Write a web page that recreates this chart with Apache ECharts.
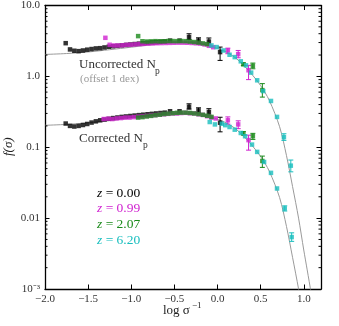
<!DOCTYPE html>
<html>
<head>
<meta charset="utf-8"/>
<script src="https://cdn.jsdelivr.net/npm/echarts@6/dist/echarts.min.js"></script>
<style>html,body{margin:0;padding:0;background:#fff;}</style>
</head>
<body>
<div id="chartmain" style="width:339px;height:326px;"></div>
<script type="text/javascript">
// corrected N_p  [log sigma^-1, f(sigma)]
var blackC = [[-1.76,0.216],[-1.71,0.200],[-1.66,0.196],[-1.61,0.200],[-1.56,0.206],[-1.51,0.213],[-1.46,0.223],[-1.41,0.232],[-1.36,0.240],[-1.31,0.246],[-1.26,0.252],[-1.21,0.258],[-1.16,0.263],[-1.11,0.268],[-1.06,0.272],[-1.01,0.276],[-0.96,0.280],[-0.91,0.284],[-0.86,0.288],[-0.81,0.292],[-0.76,0.296],[-0.71,0.300],[-0.66,0.304],[-0.61,0.308],[-0.55,0.322],[-0.44,0.322],[-0.33,0.372],[-0.22,0.330],[-0.10,0.314],[0.03,0.222]];
var blackCErr = [[-0.33,0.345,0.41],[-0.22,0.305,0.36],[-0.10,0.285,0.35],[0.03,0.165,0.265]];
var magentaC = [[-1.32,0.250],[-1.27,0.253],[-1.22,0.250],[-1.17,0.255],[-1.12,0.258],[-1.07,0.262],[-1.02,0.262],[-0.97,0.266],[-0.92,0.270],[-0.87,0.272],[-0.82,0.276],[-0.77,0.280],[-0.72,0.284],[-0.67,0.288],[-0.62,0.292],[-0.57,0.296],[-0.52,0.300],[-0.47,0.300],[-0.42,0.304],[-0.37,0.306],[-0.32,0.302],[-0.27,0.300],[-0.22,0.292],[-0.17,0.286],[-0.12,0.274],[-0.07,0.262],[-0.02,0.255],[0.12,0.240],[0.24,0.210],[0.36,0.126]];
var magentaCErr = [[0.12,0.212,0.268],[0.24,0.183,0.236],[0.36,0.091,0.148]];
var greenC = [[-0.92,0.262],[-0.87,0.266],[-0.82,0.272],[-0.77,0.277],[-0.72,0.283],[-0.67,0.288],[-0.62,0.294],[-0.57,0.298],[-0.52,0.302],[-0.47,0.306],[-0.42,0.308],[-0.37,0.308],[-0.32,0.305],[-0.27,0.300],[-0.22,0.294],[-0.17,0.287],[-0.12,0.278],[-0.07,0.268],[0.30,0.157],[0.41,0.143],[0.52,0.064]];
var greenCErr = [[0.30,0.149,0.166],[0.41,0.129,0.157],[0.52,0.052,0.075]];
var cyanC = [[-0.09,0.227],[-0.03,0.210],[0.05,0.215],[0.09,0.205],[0.14,0.193],[0.20,0.177],[0.27,0.159],[0.32,0.143],[0.40,0.109],[0.46,0.086],[0.54,0.062],[0.62,0.0435],[0.69,0.0262],[0.78,0.0137],[0.86,0.0054]];
var cyanCErr = [[0.78,0.0126,0.0149],[0.86,0.0047,0.0062]];

// uncorrected N_p (offset 1 dex)
var blackU = [[-1.76,2.94],[-1.71,2.40],[-1.66,2.30],[-1.61,2.27],[-1.56,2.32],[-1.51,2.38],[-1.46,2.43],[-1.41,2.48],[-1.36,2.50],[-1.31,2.56],[-1.26,2.62],[-1.21,2.66],[-1.16,2.70],[-1.11,2.74],[-1.06,2.78],[-1.01,2.82],[-0.96,2.86],[-0.91,2.90],[-0.86,2.94],[-0.81,2.98],[-0.76,3.02],[-0.71,3.05],[-0.66,3.08],[-0.61,3.11],[-0.55,3.20],[-0.44,3.20],[-0.33,3.58],[-0.22,3.20],[-0.10,3.10],[0.03,2.20]];
var blackUErr = [[-0.33,3.30,3.99],[-0.22,2.89,3.50],[-0.10,2.78,3.48],[0.03,1.68,2.59]];
var magentaU = [[-1.30,3.50],[-1.25,2.79],[-1.20,2.73],[-1.15,2.73],[-1.10,2.75],[-1.05,2.79],[-1.00,2.80],[-0.95,2.83],[-0.90,2.86],[-0.85,2.88],[-0.80,2.90],[-0.75,2.92],[-0.70,2.94],[-0.65,2.95],[-0.60,2.96],[-0.55,2.97],[-0.50,2.98],[-0.45,2.99],[-0.40,2.99],[-0.35,2.98],[-0.30,2.96],[-0.25,2.93],[-0.20,2.90],[-0.15,2.82],[-0.10,2.70],[-0.05,2.58],[0.12,2.32],[0.24,2.06],[0.36,1.22]];
var magentaUErr = [[0.12,2.09,2.50],[0.24,1.83,2.32],[0.36,0.90,1.43]];
var greenU = [[-0.92,3.70],[-0.87,3.13],[-0.82,3.10],[-0.77,3.12],[-0.72,3.14],[-0.67,3.12],[-0.62,3.13],[-0.57,3.15],[-0.52,3.15],[-0.47,3.14],[-0.42,3.15],[-0.37,3.14],[-0.32,3.10],[-0.27,3.05],[-0.22,3.00],[-0.17,2.92],[-0.12,2.85],[0.30,1.48],[0.41,1.41],[0.52,0.64]];
var greenUErr = [[0.30,1.42,1.55],[0.41,1.28,1.54],[0.52,0.51,0.79]];
var cyanU = [[-0.07,2.73],[-0.01,2.59],[0.07,2.32],[0.14,2.02],[0.20,1.87],[0.27,1.63],[0.33,1.43],[0.39,1.13],[0.46,0.88],[0.53,0.62],[0.62,0.45],[0.69,0.268],[0.77,0.139],[0.85,0.055]];
var cyanUErr = [[0.77,0.125,0.155],[0.85,0.045,0.066]];

// fit curves
var curveC = [[-2.0,0.204],[-1.75,0.210],[-1.5,0.221],[-1.25,0.238],[-1.0,0.258],[-0.75,0.280],[-0.5,0.298],[-0.3,0.300],[-0.1,0.272],[0.0,0.248],[0.1,0.221],[0.22,0.178],[0.37,0.117],[0.5,0.074],[0.6,0.046],[0.72,0.0195],[0.8,0.0076],[0.87,0.0028],[0.94,0.001],[0.98,0.0005]];
var curveU = [[-2.0,2.04],[-1.75,2.10],[-1.5,2.21],[-1.25,2.38],[-1.0,2.58],[-0.75,2.80],[-0.5,2.98],[-0.3,3.00],[-0.1,2.72],[0.0,2.48],[0.1,2.21],[0.22,1.78],[0.37,1.17],[0.5,0.74],[0.6,0.46],[0.72,0.195],[0.8,0.076],[0.87,0.028],[0.94,0.010],[1.0,0.00355],[1.04,0.00186],[1.085,0.00089],[1.1,0.0007]];

var minorTicksY = [0.002,0.003,0.004,0.005,0.006,0.007,0.008,0.009,0.02,0.03,0.04,0.05,0.06,0.07,0.08,0.09,0.2,0.3,0.4,0.5,0.6,0.7,0.8,0.9,2,3,4,5,6,7,8,9];
var zLabels = ['0.00', '0.99', '2.07', '6.20'];
var colors = ['#000000', '#d022d0', '#1a8a1a', '#18bebe'];

var serif = 'Liberation Serif';

function errItem(params, api) {
  var x = api.value(0);
  var p1 = api.coord([x, api.value(2)]);
  var p2 = api.coord([x, api.value(1)]);
  var w = 2.5;
  var st = { stroke: api.visual('color'), lineWidth: 1 };
  return { type: 'group', children: [
    { type: 'line', shape: { x1: p1[0], y1: p1[1], x2: p2[0], y2: p2[1] }, style: st },
    { type: 'line', shape: { x1: p1[0] - w, y1: p1[1], x2: p1[0] + w, y2: p1[1] }, style: st },
    { type: 'line', shape: { x1: p2[0] - w, y1: p2[1], x2: p2[0] + w, y2: p2[1] }, style: st }
  ]};
}

function minorItem(params, api) {
  var p = api.coord([0, api.value(1)]);
  var cs = params.coordSys;
  var st = { stroke: '#000', lineWidth: 1 };
  return { type: 'group', children: [
    { type: 'line', shape: { x1: cs.x, y1: p[1], x2: cs.x + 2.5, y2: p[1] }, style: st },
    { type: 'line', shape: { x1: cs.x + cs.width - 2.5, y1: p[1], x2: cs.x + cs.width, y2: p[1] }, style: st }
  ]};
}

function yFmt(v) {
  var e = Math.round(Math.log10(v));
  if (e === 1) return '10.0';
  if (e === 0) return '1.0';
  if (e === -1) return '0.1';
  if (e === -2) return '0.01';
  if (e === -3) return '10⁻³';
  return '';
}

function xFmt(v) {
  if (v > 1.05) return '';
  return (v < 0 ? '−' : '') + Math.abs(v).toFixed(1);
}

var series = [];
function addLine(d) {
  series.push({ type: 'line', data: d, smooth: 0.3, symbol: 'none', silent: true,
    lineStyle: { color: '#9a9a9a', width: 1 }, z: 1 });
}
addLine(curveC);
addLine(curveU);

var groups = [[blackC, blackCErr, blackU, blackUErr], [magentaC, magentaCErr, magentaU, magentaUErr],
  [greenC, greenCErr, greenU, greenUErr], [cyanC, cyanCErr, cyanU, cyanUErr]];
groups.forEach(function (g, i) {
  [0, 2].forEach(function (k) {
    series.push({ type: 'custom', renderItem: errItem, data: g[k + 1], itemStyle: { color: colors[i] },
      encode: { x: 0, y: [1, 2] }, z: 2 + i });
    series.push({ type: 'scatter', data: g[k], symbol: 'rect', symbolSize: 4.5,
      itemStyle: { color: colors[i] }, z: 2 + i });
  });
});
series.push({ type: 'custom', renderItem: minorItem, data: minorTicksY.map(function (v) { return [0, v]; }),
  encode: { x: 0, y: 1 }, z: 10, silent: true });

var axisLine = { onZero: false, lineStyle: { color: '#000', width: 1.3 } };
var tick = { inside: true, length: 4.5, lineStyle: { color: '#000', width: 1 } };

var graphics = [
  { type: 'text', left: 79, top: 58, style: { text: 'Uncorrected N', font: '13px ' + serif, fill: '#333' } },
  { type: 'text', left: 155, top: 66, style: { text: 'p', font: '9.5px ' + serif, fill: '#333' } },
  { type: 'text', left: 80, top: 74, style: { text: '(offset 1 dex)', font: '11px ' + serif, fill: '#999' } },
  { type: 'text', left: 79, top: 132, style: { text: 'Corrected N', font: '13px ' + serif, fill: '#333' } },
  { type: 'text', left: 143, top: 140, style: { text: 'p', font: '9.5px ' + serif, fill: '#333' } },
  { type: 'text', left: 163, top: 304, style: { text: 'log σ', font: '13px ' + serif, fill: '#222' } },
  { type: 'text', left: 192, top: 301, style: { text: '−1', font: '9px ' + serif, fill: '#222' } },
  { type: 'text', x: 2, y: 156, rotation: Math.PI / 2, style: { text: 'f(σ)', font: 'italic 13px ' + serif, fill: '#222' } }
];
zLabels.forEach(function (t, i) {
  graphics.push({ type: 'text', left: 97, top: 186 + i * 15.8, style: {
    text: '{i|z} = ' + t, font: '13.5px ' + serif, fill: colors[i],
    rich: { i: { fontStyle: 'italic', fontFamily: serif, fontSize: 13.5, fill: colors[i], color: colors[i] } } } });
});

var option = {
  animation: false,
  grid: { left: 45, right: 18, top: 5, bottom: 37 },
  xAxis: [
    { type: 'value', min: -2.0, max: 1.2, interval: 0.5, axisLine: axisLine, axisTick: tick, splitLine: { show: false },
      axisLabel: { formatter: xFmt, fontFamily: serif, fontSize: 11, color: '#333', margin: 5 } },
    { type: 'value', position: 'top', min: -2.0, max: 1.2, interval: 0.5, axisLine: axisLine, axisTick: tick,
      splitLine: { show: false }, axisLabel: { show: false } }
  ],
  yAxis: [
    { type: 'log', logBase: 10, min: 0.001, max: 10, axisLine: axisLine, axisTick: tick, splitLine: { show: false },
      axisLabel: { formatter: yFmt, fontFamily: serif, fontSize: 11, color: '#333', margin: 5 } },
    { type: 'log', logBase: 10, position: 'right', min: 0.001, max: 10, axisLine: axisLine, axisTick: tick,
      splitLine: { show: false }, axisLabel: { show: false } }
  ],
  graphic: graphics,
  series: series
};

var myChart = echarts.init(document.getElementById('chartmain'));
myChart.setOption(option);
</script>
</body>
</html>
